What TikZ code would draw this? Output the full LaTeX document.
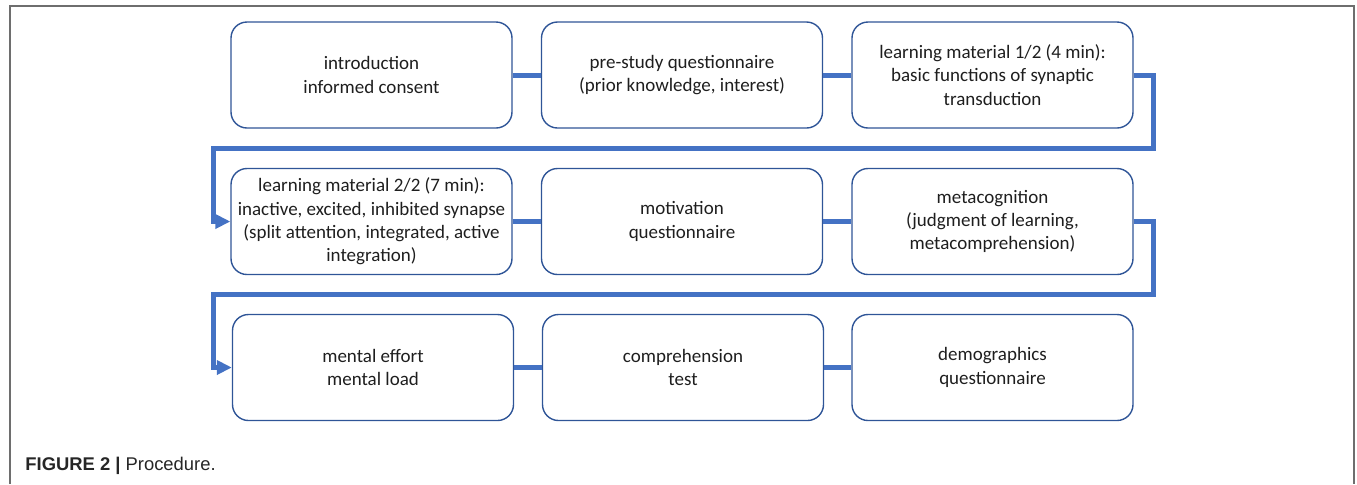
\documentclass[tikz,border=0pt]{standalone}
\usepackage{fontspec}
\setmainfont{Carlito}
\newfontfamily\capfont{Liberation Sans}
\usetikzlibrary{arrows.meta}
\definecolor{boxline}{HTML}{2F5597}
\definecolor{flow}{HTML}{4472C4}
\definecolor{framegray}{HTML}{6E6E6E}
\definecolor{txt}{HTML}{1E1E1E}
\begin{document}
\begin{tikzpicture}[x=0.5pt,y=-0.5pt,
  stepbox/.style={draw=boxline,line width=0.7pt,rounded corners=8pt,
    minimum width=140.5pt,minimum height=53pt,inner sep=0pt,align=center,
    text=txt,font=\fontsize{9.5pt}{11.7pt}\selectfont},
  link/.style={draw=flow,line width=2.5pt},
  wrap/.style={link,line join=miter,-{Triangle[length=7.5pt,width=7pt]}}]
\useasboundingbox (0,0) rectangle (1357,484);
% outer frame (open at the bottom)
\draw[framegray,line width=1pt] (9.5,484) -- (9.5,6) -- (1354,6) -- (1354,484);

% row 1
\node[stepbox] (a1) at (371.5,75) {introduction\\informed consent};
\node[stepbox] (a2) at (682,75) {pre-study questionnaire\\(prior knowledge, interest)};
\node[stepbox] (a3) at (992.5,75) {learning material 1/2 (4 min):\\basic functions of synaptic\\transduction};
% row 2
\node[stepbox] (b1) at (371.5,221.5) {learning material 2/2 (7 min):\\inactive, excited, inhibited synapse\\(split attention, integrated, active\\integration)};
\node[stepbox] (b2) at (682,221.5) {motivation\\questionnaire};
\node[stepbox] (b3) at (992.5,221.5) {metacognition\\(judgment of learning,\\metacomprehension)};
% row 3
\node[stepbox] (c1) at (373,367.5) {mental effort\\mental load};
\node[stepbox] (c2) at (683,367.5) {comprehension\\test};
\node[stepbox] (c3) at (992.5,367.5) {demographics\\questionnaire};

% links inside each row
\draw[link] (a1) -- (a2);
\draw[link] (a2) -- (a3);
\draw[link] (b1) -- (b2);
\draw[link] (b2) -- (b3);
\draw[link] (c1) -- (c2);
\draw[link] (c2) -- (c3);

% wrap-around links between rows
\coordinate (r1) at (1153,148);
\coordinate (l1) at (213,221.5);
\coordinate (r2) at (1153,294.5);
\coordinate (l2) at (213,367.5);
\draw[wrap] (a3.east) -| (r1) -| (l1) -- (b1.west);
\draw[wrap] (b3.east) -| (r2) -| (l2) -- (c1.west);

% caption
\node[anchor=base west,inner sep=0pt,text=black!85,font=\capfont\fontsize{9.2pt}{11pt}\selectfont]
  (cap) at (25,470) {\textbf{FIGURE 2 |} Procedure.};
\end{tikzpicture}
\end{document}
